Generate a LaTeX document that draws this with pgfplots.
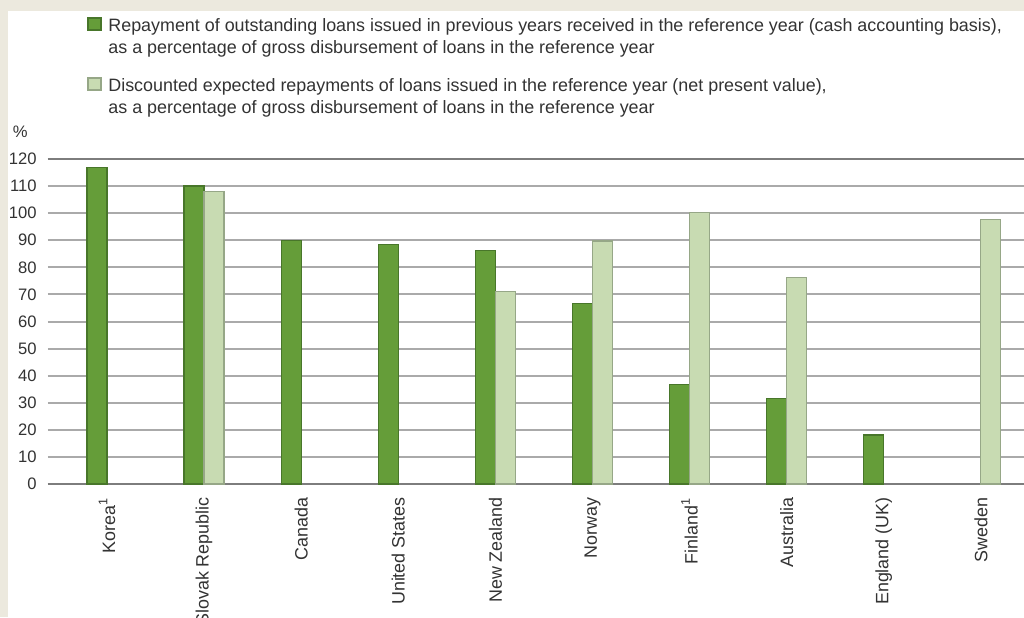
\documentclass[border=0pt]{standalone}
\usepackage{pgfplots}
\pgfplotsset{compat=1.18}
\usepackage{fontspec}
\setmainfont{Liberation Sans}
\definecolor{beige}{RGB}{236,233,222}
\definecolor{dkfill}{RGB}{101,157,57}
\definecolor{dkdraw}{RGB}{72,118,42}
\definecolor{ltfill}{RGB}{200,219,178}
\definecolor{ltdraw}{RGB}{150,167,135}
\definecolor{gridc}{RGB}{170,170,170}
\definecolor{gridd}{RGB}{125,125,125}
\begin{document}
\begin{tikzpicture}
\fill[beige] (0,0) rectangle (512pt,308.5pt);
\fill[white] (4pt,0) rectangle (512pt,303pt);
\begin{axis}[
  at={(24pt,66.5pt)}, anchor=south west,
  scale only axis, width=488pt, height=162.5pt,
  xmin=-0.6076, xmax=9.444, ymin=0, ymax=120,
  axis line style={draw=none}, tick style={draw=none},
  major tick length=0pt,
  ytick={0,10,...,120},
  ymajorgrids, grid style={draw=gridc, line width=1pt},
  extra y ticks={0,120}, extra y tick labels={},
  extra y tick style={grid style={draw=gridd, line width=1.2pt}},
  xtick={0,...,9},
  xticklabels={Korea\textsuperscript{1},Slovak Republic,Canada,United States,New Zealand,Norway,Finland\textsuperscript{1},Australia,England (UK),Sweden},
  font=\fontsize{8.95}{10.5}\selectfont,
  /pgf/number format/assume math mode=true,
  ticklabel style={text=black!80},
  xticklabel style={rotate=90, anchor=east, inner sep=0pt, font=\fontsize{8.95}{10.5}\selectfont},
  xticklabel shift=6.5pt,
  yticklabel style={inner sep=0pt, anchor=east, font=\fontsize{8.3}{10}\selectfont},
  yticklabel shift=5.5pt,
  ylabel={\%},
  every axis y label/.style={at={(rel axis cs:0,1)}, anchor=south east, xshift=-10pt, yshift=10.5pt, inner sep=0pt, text=black!80, font=\fontsize{8.3}{10}\selectfont},
  clip=false,
]
\addplot[ybar, bar width=10pt, bar shift=-5pt, fill=dkfill, draw=dkdraw, line width=0.6pt]
  coordinates {(0,117) (1,110) (2,90) (3,88.5) (4,86.2) (5,66.5) (6,36.6) (7,31.6) (8,18.1)};
\addplot[ybar, bar width=10pt, bar shift=5pt, fill=ltfill, draw=ltdraw, line width=0.6pt]
  coordinates {(1,108) (4,71) (5,89.7) (6,100.2) (7,76.3) (9,97.7)};
\end{axis}
% legend
\begin{scope}[every node/.style={anchor=base west, inner sep=0pt, text=black!80, font=\fontsize{8.95}{10.75}\selectfont}]
\filldraw[fill=dkfill, draw=dkdraw, line width=0.6pt] (44pt,293.5pt) rectangle (50.5pt,299.5pt);
\node at (54pt,292.5pt) {Repayment of outstanding loans issued in previous years received in the reference year (cash accounting basis),};
\node at (54pt,281.75pt) {as a percentage of gross disbursement of loans in the reference year};
\filldraw[fill=ltfill, draw=ltdraw, line width=0.6pt] (44pt,263.5pt) rectangle (50.5pt,269.5pt);
\node at (54pt,262.5pt) {Discounted expected repayments of loans issued in the reference year (net present value),};
\node at (54pt,251.75pt) {as a percentage of gross disbursement of loans in the reference year};
\end{scope}
\pgfresetboundingbox
\path[use as bounding box] (0,0) rectangle (512pt,308.5pt);
\end{tikzpicture}
\end{document}
